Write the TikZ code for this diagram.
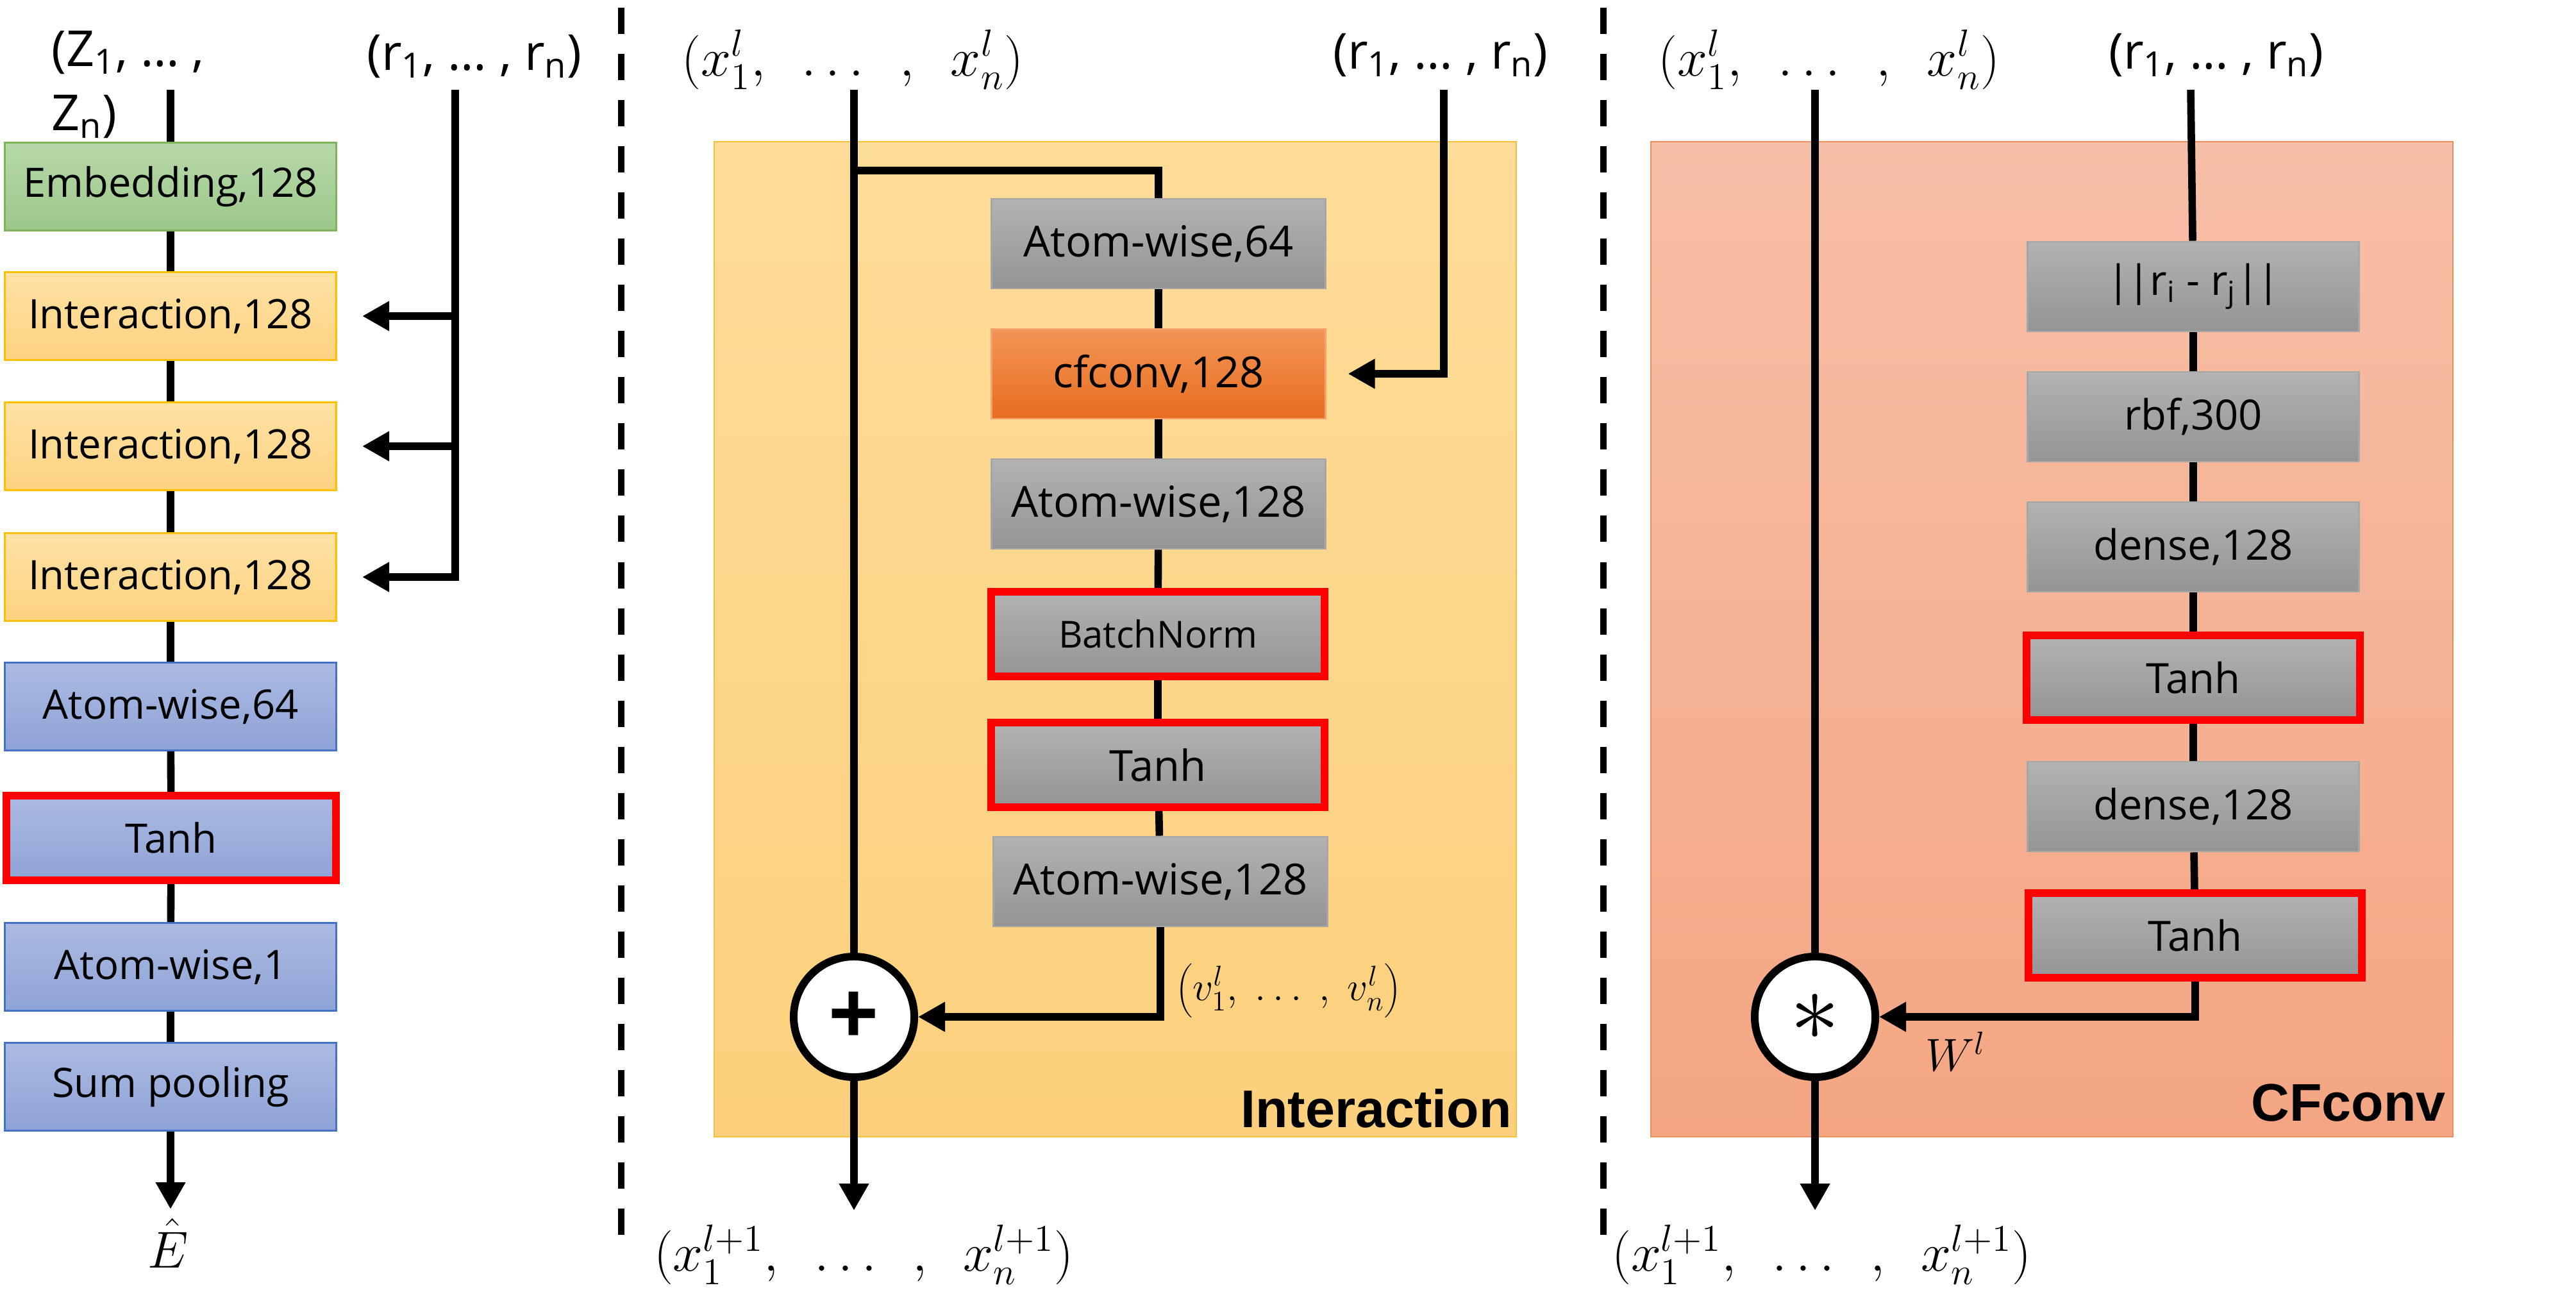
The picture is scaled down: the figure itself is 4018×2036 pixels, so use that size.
\RequirePackage{fix-cm}
\documentclass[tikz,border=0pt]{standalone}
\usepackage[no-math]{fontspec}
\setmainfont{Open Sans}
\newfontfamily\headfont{Liberation Sans}
\usetikzlibrary{arrows.meta}

\definecolor{embtop}{HTML}{B6D8A9}
\definecolor{embbot}{HTML}{9CC88A}
\definecolor{embline}{HTML}{7FB35C}
\definecolor{inttop}{HTML}{FFE2A6}
\definecolor{intbot}{HTML}{FDD27F}
\definecolor{intline}{HTML}{FFC000}
\definecolor{atmtop}{HTML}{ABBAE2}
\definecolor{atmbot}{HTML}{8EA3D6}
\definecolor{atmline}{HTML}{4472C4}
\definecolor{laytop}{HTML}{B2B2B2}
\definecolor{laybot}{HTML}{949494}
\definecolor{layline}{HTML}{A6A6A6}
\definecolor{cftop}{HTML}{F29556}
\definecolor{cfbot}{HTML}{E86D1F}
\definecolor{cfline}{HTML}{F5A26F}
\definecolor{ibgtop}{HTML}{FEDC99}
\definecolor{ibgbot}{HTML}{FCD07C}
\definecolor{ibgline}{HTML}{F2C23A}
\definecolor{cbgtop}{HTML}{F6BFA7}
\definecolor{cbgbot}{HTML}{F4A683}
\definecolor{cbgline}{HTML}{E9905F}

\begin{document}
\begin{tikzpicture}
    [x=0.01cm, y=-0.01cm,
    block/.style={draw, line width=0.8pt, inner sep=0pt, minimum width=5.17cm,
      minimum height=1.37cm, font=\fontsize{18}{20}\selectfont},
    embed/.style={block, draw=embline, top color=embtop, bottom color=embbot},
    inter/.style={block, draw=intline, top color=inttop, bottom color=intbot},
    atom/.style={block, draw=atmline, top color=atmtop, bottom color=atmbot},
    layer/.style={block, draw=layline, top color=laytop, bottom color=laybot,
      minimum width=5.2cm, minimum height=1.4cm, font=\fontsize{19}{21}\selectfont},
    cfbox/.style={layer, draw=cfline, top color=cftop, bottom color=cfbot},
    act/.style={draw=red, line width=3.4pt, minimum height=1.32cm},
    wire/.style={line width=3.3pt},
    flow/.style={wire, -{Triangle[length=0.42cm, width=0.44cm]}},
    op/.style={circle, draw, fill=white, line width=3.4pt, minimum size=1.88cm, inner sep=0pt},
    lbl/.style={font=\fontsize{22}{28.5}\selectfont},
    mlbl/.style={font=\fontsize{24}{28}\selectfont},
    title/.style={font=\headfont\bfseries\fontsize{23.5}{26}\selectfont},
    divider/.style={line width=2.8pt, dash pattern=on 0.41cm off 0.31cm}]

    \useasboundingbox (0,0) rectangle (4018,2036);

    % Backgrounds for the two blocks
    \draw[draw=ibgline, line width=0.8pt, top color=ibgtop, bottom color=ibgbot] (1114,221) rectangle (2365,1773);
    \draw[draw=cbgline, line width=0.8pt, top color=cbgtop, bottom color=cbgbot] (2575,221) rectangle (3826,1773);

    % Separators
    \draw[divider] (969,12) -- (969,1933);
    \draw[divider] (2501,12) -- (2501,1933);

    % Left: whole network
    \node[lbl, anchor=north west, align=left] (zlbl) at (68,36) {(Z\textsubscript{1}, \ldots\ ,\\Z\textsubscript{n})};
    \node[lbl] (rlbl) at (740,88) {(r\textsubscript{1}, \ldots\ , r\textsubscript{n})};
    \coordinate (zin) at (266,140);
    \coordinate (rin) at (710,140);

    \node[embed] (emb) at (266,291) {Embedding,128};
    \node[inter] (inta) at (266,493) {Interaction,128};
    \node[inter] (intb) at (266,696) {Interaction,128};
    \node[inter] (intc) at (266,900) {Interaction,128};
    \node[atom] (awa) at (266,1102) {Atom-wise,64};
    \node[atom, act, minimum width=5.13cm] (tha) at (267,1307) {Tanh};
    \node[atom] (awb) at (266,1508) {Atom-wise,1};
    \node[atom] (pool) at (266,1695) {Sum pooling};
    \coordinate (eend) at (266,1886);
    \node[font=\fontsize{23}{25}\selectfont, inner sep=0pt, anchor=base] (ehat) at (262,1977) {$\hat{E}$};

    \draw[wire] (zin) -- (emb);
    \draw[wire] (emb) -- (inta);
    \draw[wire] (inta) -- (intb);
    \draw[wire] (intb) -- (intc);
    \draw[wire] (intc) -- (awa);
    \draw[wire] (awa) -- (tha);
    \draw[wire] (tha) -- (awb);
    \draw[wire] (awb) -- (pool);
    \draw[flow] (pool) -- (eend);

    \draw[flow, shorten >=0.39cm] (rin) |- (intc);
    \draw[flow, shorten >=0.39cm] (rin |- inta) -- (inta);
    \draw[flow, shorten >=0.39cm] (rin |- intb) -- (intb);

    % Middle: interaction block
    \node[mlbl] (xtop) at (1330,93) {$(x_1^{l},\enspace\ldots\enspace,\enspace x_n^{l})$};
    \node[lbl] (rtop) at (2247,86) {(r\textsubscript{1}, \ldots\ , r\textsubscript{n})};
    \coordinate (xin) at (1332,140);
    \coordinate (rmid) at (2252,140);
    \coordinate (split) at (1332,266);

    \node[layer] (awc) at (1807,380) {Atom-wise,64};
    \node[cfbox] (cfc) at (1807,583) {cfconv,128};
    \node[layer] (awd) at (1807,786) {Atom-wise,128};
    \node[layer, act, minimum width=5.19cm, font=\fontsize{16.5}{18}\selectfont] (bn) at (1806,989) {BatchNorm};
    \node[layer, act, minimum width=5.19cm] (thb) at (1806,1193) {Tanh};
    \node[layer] (awe) at (1810,1375) {Atom-wise,128};
    \node[op, font=\headfont\bfseries\fontsize{38}{38}\selectfont] (plus) at (1332,1586) {+};
    \node[font=\fontsize{18}{22}\selectfont, anchor=west] (vlbl) at (1822,1545) {$\left(v_1^{l},\ \ldots\ ,\ v_n^{l}\right)$};
    \coordinate (xend) at (1332,1888);
    \node[mlbl] (xout) at (1347,1957) {$(x_1^{l+1},\enspace\ldots\enspace,\enspace x_n^{l+1})$};
    \node[title, anchor=base east] (ititle) at (2370,1758) {Interaction};

    \draw[wire] (xin) -- (plus);
    \draw[wire] (split) -| (awc);
    \draw[wire] (awc) -- (cfc);
    \draw[wire] (cfc) -- (awd);
    \draw[wire] (awd) -- (bn);
    \draw[wire] (bn) -- (thb);
    \draw[wire] (thb) -- (awe);
    \draw[flow] (awe) |- (plus);
    \draw[flow, shorten >=0.34cm] (rmid) |- (cfc);
    \draw[flow] (plus) -- (xend);

    % Right: cfconv block
    \node[mlbl] (xtop2) at (2853,93) {$(x_1^{l},\enspace\ldots\enspace,\enspace x_n^{l})$};
    \node[lbl] (rtop2) at (3457,86) {(r\textsubscript{1}, \ldots\ , r\textsubscript{n})};
    \coordinate (xin2) at (2831,140);
    \coordinate (rin2) at (3417,140);

    \node[layer, minimum width=5.17cm, font=\fontsize{18.5}{20}\selectfont] (dist) at (3421,447) {|\kern-0.06em|r\textsubscript{i} - r\textsubscript{j}|\kern-0.06em|};
    \node[layer, minimum width=5.17cm, font=\fontsize{18.5}{20}\selectfont] (rbf) at (3421,650) {rbf,300};
    \node[layer, minimum width=5.17cm, font=\fontsize{18.5}{20}\selectfont] (dna) at (3421,853) {dense,128};
    \node[layer, act, font=\fontsize{18.5}{20}\selectfont] (thc) at (3421,1057) {Tanh};
    \node[layer, minimum width=5.17cm, font=\fontsize{18.5}{20}\selectfont] (dnb) at (3421,1258) {dense,128};
    \node[layer, act, font=\fontsize{18.5}{20}\selectfont] (thd) at (3424,1459) {Tanh};
    \node[op, font=\fontsize{44}{44}\selectfont] (conv) at (2831,1586) {$\ast$\hspace{0.5cm}};
    \node[font=\fontsize{20.5}{24}\selectfont] (wlbl) at (3050,1640) {$W^{l}$};
    \coordinate (cend) at (2831,1888);
    \node[mlbl] (xout2) at (2841,1957) {$(x_1^{l+1},\enspace\ldots\enspace,\enspace x_n^{l+1})$};
    \node[title, anchor=base east] (ctitle) at (3827,1748) {CFconv};

    \draw[wire] (xin2) -- (conv);
    \draw[wire] (rin2) -- (dist);
    \draw[wire] (dist) -- (rbf);
    \draw[wire] (rbf) -- (dna);
    \draw[wire] (dna) -- (thc);
    \draw[wire] (thc) -- (dnb);
    \draw[wire] (dnb) -- (thd);
    \draw[flow] (thd) |- (conv);
    \draw[flow] (conv) -- (cend);

\end{tikzpicture}
\end{document}
